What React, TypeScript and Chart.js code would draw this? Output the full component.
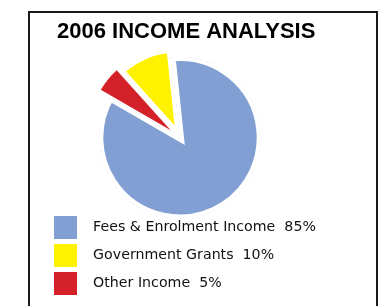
import React, { useEffect, useRef } from "react";
import { Chart, registerables } from "chart.js";

Chart.register(...registerables);

// ---- data ----
const TITLE = "2006 INCOME ANALYSIS";
const categories = ["Fees & Enrolment Income", "Government Grants", "Other Income"];
const values = [85, 10, 5];

// ---- styles (per category) ----
const colors = ["#819fd3", "#fff200", "#d42129"];
const explodePx = [0, 7, 12]; // how far each slice is pulled out
const gapPx = [4, 2, 0]; // white inner edge that opens the gaps

// Chart.js draws clockwise; the reference reads blue -> red -> yellow clockwise
const drawOrder = [2, 1, 0];

const layoutTweak = {
  id: "layoutTweak",
  afterLayout(chart: any) {
    const t = chart.titleBlock;
    if (t) {
      t.left += 8;
      t.right += 8;
    }
    const l = chart.legend;
    if (l) {
      l.right += 40;
      l.width += 40;
    }
  },
};

const explodeSlices = {
  id: "explodeSlices",
  afterDatasetsUpdate(chart: any) {
    const meta = chart.getDatasetMeta(0);
    meta.data.forEach((arc: any, j: number) => {
      const d = explodePx[drawOrder[j]];
      if (!d) return;
      const mid = (arc.startAngle + arc.endAngle) / 2;
      arc.x += Math.cos(mid) * d;
      arc.y += Math.sin(mid) * d;
    });
  },
};

export default function App() {
  const ref = useRef<HTMLCanvasElement>(null);

  useEffect(() => {
    if (!ref.current) return;
    const labels = drawOrder.map((i) => categories[i]);
    const chart = new Chart(ref.current, {
      type: "pie",
      data: {
        labels,
        datasets: [
          {
            data: drawOrder.map((i) => values[i]),
            backgroundColor: drawOrder.map((i) => colors[i]),
            borderColor: "#ffffff",
            borderWidth: drawOrder.map((i) => gapPx[i]),
            borderAlign: "inner",
            borderJoinStyle: "miter",
            offset: 0,
          },
        ],
      },
      options: {
        responsive: false,
        animation: false,
        rotation: -60,
        radius: 81,
        layout: { padding: { left: 49, right: 67, top: 0, bottom: 1 } },
        plugins: {
          title: {
            display: true,
            text: TITLE,
            align: "start",
            color: "#000",
            font: { family: "'Liberation Sans', Arial, sans-serif", size: 22, weight: "bold", lineHeight: 1.2 },
            padding: { top: 19, bottom: 19 },
          },
          legend: {
            position: "bottom",
            align: "start",
            reverse: true,
            labels: {
              boxWidth: 23,
              boxHeight: 23,
              padding: 5,
              color: "#111",
              font: { family: "'DejaVu Sans', sans-serif", size: 14.2 },
              generateLabels: (c: any) => {
                const items = (Chart as any).overrides.pie.plugins.legend.labels.generateLabels(c);
                return items.map((it: any) => ({
                  ...it,
                  lineWidth: 0,
                  text: `  ${labels[it.index]}  ${values[drawOrder[it.index]]}%`,
                }));
              },
            },
          },
          tooltip: { enabled: false },
        },
      } as any,
      plugins: [layoutTweak, explodeSlices],
    });
    return () => chart.destroy();
  }, []);

  return (
    <div
      style={{
        position: "fixed",
        left: 0,
        top: 0,
        width: 378,
        height: 306,
        overflow: "hidden",
        background: "#fff",
      }}
    >
      <div
        style={{
          position: "absolute",
          left: 28,
          top: 11,
          width: 350,
          height: 320,
          border: "2px solid #1a1a1a",
          boxSizing: "border-box",
        }}
      />
      <canvas
        ref={ref}
        width={378}
        height={306}
        style={{ position: "absolute", left: 0, top: 0, width: 378, height: 306 }}
      />
    </div>
  );
}
